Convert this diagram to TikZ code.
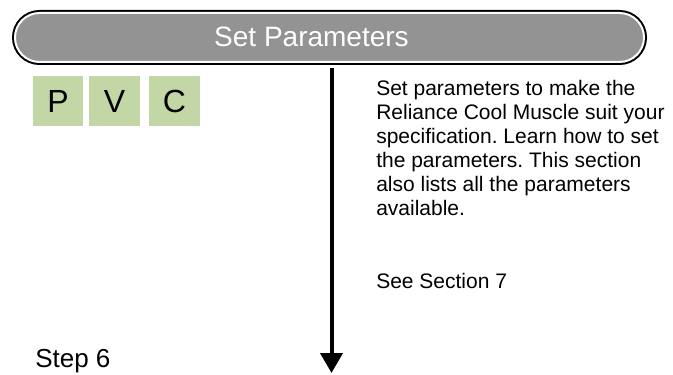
\documentclass[tikz,border=0pt]{standalone}
\usepackage{fontspec}
\setmainfont{Liberation Sans}
\usetikzlibrary{arrows.meta,shapes.misc,calc}
\definecolor{hdrgray}{HTML}{939393}
\definecolor{pvcgreen}{HTML}{C3D6A6}
\frenchspacing
\begin{document}
\begin{tikzpicture}[x=0.75pt,y=-0.75pt,
  hdr/.style={rounded rectangle, fill=hdrgray, draw=white, line width=1.5pt,
    preaction={draw=black, line width=4.5pt},
    minimum width=471.75pt, minimum height=36.75pt, inner sep=0pt},
  hdrtext/.style={text=white, inner sep=0pt, anchor=base, font=\fontsize{21}{21}\selectfont},
  pvc/.style={fill=pvcgreen, minimum width=37.9pt, minimum height=37.5pt, inner sep=0pt,
    font=\fontsize{24}{24}\selectfont},
  body/.style={inner sep=0pt, anchor=base west, align=left,
    font=\fontsize{15.75}{18}\selectfont\frenchspacing},
  steplabel/.style={inner sep=0pt, anchor=base west, font=\fontsize{19.5}{19.5}\selectfont},
  flow/.style={line width=3pt, -{Triangle[width=16.5pt,length=15pt]}}
]
\useasboundingbox (0,0) rectangle (673,374);
\node[hdr] (header) at (329.5,37.5) {};
\node[hdrtext] (headtext) at (311.5,47) {Set Parameters};
\node[pvc] (p) at (58,101) {P};
\node[pvc] (v) at (114.5,101) {V};
\node[pvc] (c) at (174.5,101) {C};
\node[body] (desc) at (376,215) {Set parameters to make the\\Reliance Cool Muscle suit your\\specification. Learn how to set\\the parameters. This section\\also lists all the parameters\\available.};
\node[body] (see) at (376,288) {See Section 7};
\node[steplabel] (step) at (35,367) {Step 6};
\coordinate (arrowend) at (331.5,373);
\draw[flow] ($(header.south -| arrowend)+(0,5.5)$) -- (arrowend);
\end{tikzpicture}
\end{document}
